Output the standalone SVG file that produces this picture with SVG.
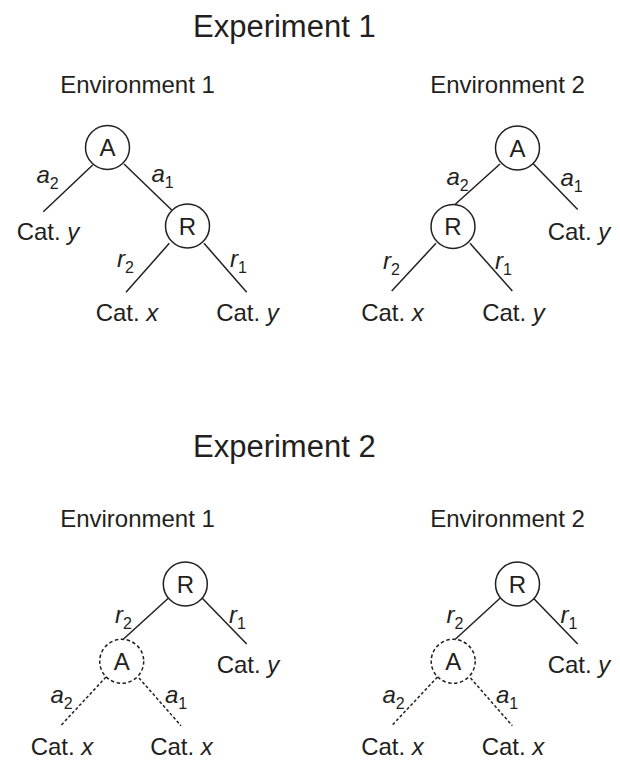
<svg xmlns="http://www.w3.org/2000/svg" width="620" height="762" viewBox="0 0 620 762">
<style>
text{font-family:"Liberation Sans",Arial,sans-serif;fill:#231f20}
.title{font-size:31px}
.env{font-size:24px;text-anchor:middle}
.cat{font-size:24px;text-anchor:middle}
.lbl{font-size:24px;font-style:italic}
.sub{font-size:16px;font-style:normal}
.node{font-size:24px;text-anchor:middle}
circle{fill:#fff;stroke:#231f20;stroke-width:1.5}
circle.dash{stroke-dasharray:3.5 2.5}
line{stroke:#231f20;stroke-width:1.5}
line.dash{stroke-dasharray:3 2.2}
</style>

<g id="titles">
<text class="title" x="193" y="37">Experiment 1</text>
<text class="env" x="137.5" y="93">Environment 1</text>
<text class="env" x="507.5" y="93">Environment 2</text>
<text class="title" x="193" y="457">Experiment 2</text>
<text class="env" x="137.5" y="527">Environment 1</text>
<text class="env" x="507.5" y="527">Environment 2</text>
</g>

<g id="connectors">
<!-- Exp1 Env1 -->
<line x1="92.7" y1="165" x2="43.3" y2="211.7"/>
<line x1="124" y1="164" x2="171.7" y2="210"/>
<line x1="169.3" y1="243.3" x2="126" y2="292.3"/>
<line x1="204" y1="243.3" x2="246.7" y2="292.3"/>
<!-- Exp1 Env2 -->
<line x1="500" y1="164" x2="455" y2="204.5"/>
<line x1="533" y1="163.5" x2="577.7" y2="209.5"/>
<line x1="436" y1="243.3" x2="391.7" y2="291"/>
<line x1="470" y1="243.3" x2="512.3" y2="291"/>
<!-- Exp2 Env1 -->
<line x1="168.3" y1="598.3" x2="123" y2="639.5"/>
<line x1="202.3" y1="598.3" x2="246.7" y2="644"/>
<line class="dash" x1="106" y1="677" x2="60.7" y2="725.7"/>
<line class="dash" x1="139" y1="678" x2="181" y2="725.7"/>
<!-- Exp2 Env2 -->
<line x1="500" y1="598.3" x2="455" y2="639.5"/>
<line x1="533" y1="597.8" x2="577.7" y2="644"/>
<line class="dash" x1="437.5" y1="677" x2="391.7" y2="725.7"/>
<line class="dash" x1="470.5" y1="678" x2="512.3" y2="725.7"/>
</g>

<g id="e1-env1-A"><circle cx="107.5" cy="147.5" r="22"/><text class="node" x="107.5" y="156">A</text></g>
<g id="e1-env1-R"><circle cx="187.5" cy="226" r="22"/><text class="node" x="187.5" y="234.5">R</text></g>
<g id="e1-env1-caty1"><text class="cat" x="48" y="240">Cat. <tspan font-style="italic">y</tspan></text></g>
<g id="e1-env1-catx"><text class="cat" x="127" y="321">Cat. <tspan font-style="italic">x</tspan></text></g>
<g id="e1-env1-caty2"><text class="cat" x="247.5" y="321">Cat. <tspan font-style="italic">y</tspan></text></g>
<g id="e1-env1-labels">
<text class="lbl" x="36.5" y="183">a<tspan class="sub" dy="6">2</tspan></text>
<text class="lbl" x="151.5" y="182">a<tspan class="sub" dy="6">1</tspan></text>
<text class="lbl" x="117" y="267">r<tspan class="sub" dy="6">2</tspan></text>
<text class="lbl" x="230" y="267">r<tspan class="sub" dy="6">1</tspan></text>
</g>

<g id="e1-env2-A"><circle cx="517.5" cy="148" r="22"/><text class="node" x="517.5" y="156.5">A</text></g>
<g id="e1-env2-R"><circle cx="453" cy="226.5" r="22"/><text class="node" x="453" y="235">R</text></g>
<g id="e1-env2-caty1"><text class="cat" x="579" y="240">Cat. <tspan font-style="italic">y</tspan></text></g>
<g id="e1-env2-catx"><text class="cat" x="392.5" y="321">Cat. <tspan font-style="italic">x</tspan></text></g>
<g id="e1-env2-caty2"><text class="cat" x="513.5" y="321">Cat. <tspan font-style="italic">y</tspan></text></g>
<g id="e1-env2-labels">
<text class="lbl" x="446.5" y="185">a<tspan class="sub" dy="6">2</tspan></text>
<text class="lbl" x="560.5" y="186">a<tspan class="sub" dy="6">1</tspan></text>
<text class="lbl" x="383" y="269">r<tspan class="sub" dy="6">2</tspan></text>
<text class="lbl" x="495" y="269">r<tspan class="sub" dy="6">1</tspan></text>
</g>

<g id="e2-env1-R"><circle cx="185.3" cy="584" r="22"/><text class="node" x="185.3" y="592.5">R</text></g>
<g id="e2-env1-A"><circle class="dash" cx="121.7" cy="661.3" r="22"/><text class="node" x="121.7" y="669.8">A</text></g>
<g id="e2-env1-caty"><text class="cat" x="248" y="673">Cat. <tspan font-style="italic">y</tspan></text></g>
<g id="e2-env1-catx1"><text class="cat" x="62" y="755">Cat. <tspan font-style="italic">x</tspan></text></g>
<g id="e2-env1-catx2"><text class="cat" x="181.5" y="755">Cat. <tspan font-style="italic">x</tspan></text></g>
<g id="e2-env1-labels">
<text class="lbl" x="115" y="623">r<tspan class="sub" dy="6">2</tspan></text>
<text class="lbl" x="229" y="622.5">r<tspan class="sub" dy="6">1</tspan></text>
<text class="lbl" x="50.5" y="703">a<tspan class="sub" dy="6">2</tspan></text>
<text class="lbl" x="165" y="703">a<tspan class="sub" dy="6">1</tspan></text>
</g>

<g id="e2-env2-R"><circle cx="517.5" cy="584" r="22"/><text class="node" x="517.5" y="592.5">R</text></g>
<g id="e2-env2-A"><circle class="dash" cx="453.2" cy="661.3" r="22"/><text class="node" x="453.2" y="669.8">A</text></g>
<g id="e2-env2-caty"><text class="cat" x="579" y="673">Cat. <tspan font-style="italic">y</tspan></text></g>
<g id="e2-env2-catx1"><text class="cat" x="392.5" y="755">Cat. <tspan font-style="italic">x</tspan></text></g>
<g id="e2-env2-catx2"><text class="cat" x="513" y="755">Cat. <tspan font-style="italic">x</tspan></text></g>
<g id="e2-env2-labels">
<text class="lbl" x="446.5" y="623">r<tspan class="sub" dy="6">2</tspan></text>
<text class="lbl" x="560.5" y="622.5">r<tspan class="sub" dy="6">1</tspan></text>
<text class="lbl" x="382.5" y="703">a<tspan class="sub" dy="6">2</tspan></text>
<text class="lbl" x="496" y="703">a<tspan class="sub" dy="6">1</tspan></text>
</g>
</svg>
